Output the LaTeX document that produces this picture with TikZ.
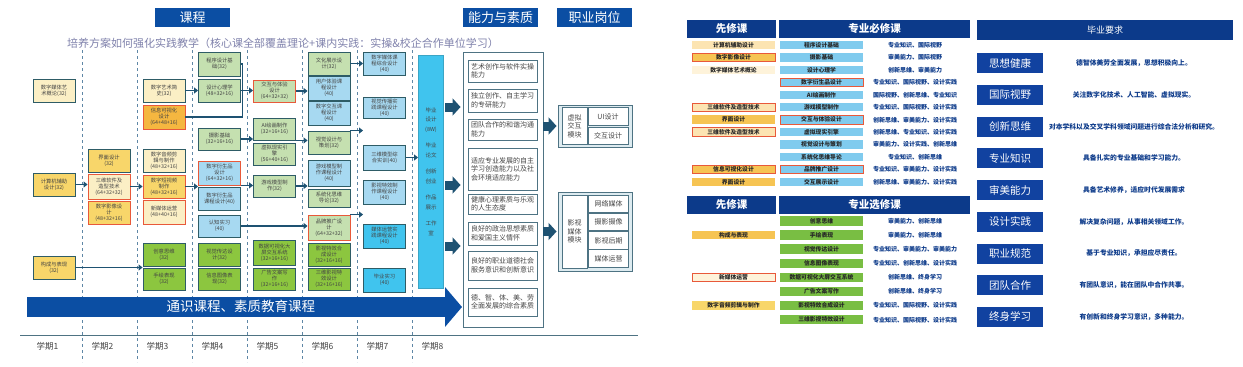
\documentclass[tikz,border=0pt]{standalone}
\usepackage{fontspec}
\setmainfont{Noto Sans CJK SC}
\XeTeXlinebreaklocale "zh"
\XeTeXlinebreakskip=0pt plus 1pt
\usetikzlibrary{arrows.meta,positioning,calc}
\definecolor{hdblue}{HTML}{0B4EA3}
\definecolor{navy}{HTML}{0C3A8A}
\definecolor{gradblue}{HTML}{1142A0}
\definecolor{paleyel}{HTML}{FBEFC5}
\definecolor{midyel}{HTML}{F8D66A}
\definecolor{orng}{HTML}{F5B740}
\definecolor{redline}{HTML}{E8593A}
\definecolor{palegrn}{HTML}{C5E0B0}
\definecolor{grn}{HTML}{8CC63F}
\definecolor{paleblu}{HTML}{A7D9F1}
\definecolor{cyanb}{HTML}{40C4EE}
\definecolor{edge}{HTML}{2E5C66}
\definecolor{abiledge}{HTML}{4E7383}
\definecolor{arrowc}{HTML}{1E5272}
\definecolor{dashc}{HTML}{5F87A6}
\definecolor{titlec}{HTML}{8082AC}
\definecolor{boxtext}{HTML}{444444}
\definecolor{jobfill}{HTML}{DDEBF0}
\definecolor{reqblue}{HTML}{80CBEE}
\definecolor{optgreen}{HTML}{79BE43}
\definecolor{preorng}{HTML}{F6C453}
\definecolor{prelight}{HTML}{FCE4B2}
\definecolor{prepale}{HTML}{FEF3DA}
\tikzset{
  hdbox/.style={fill=hdblue, text=white, minimum height=19pt, minimum width=75pt,
    inner sep=0pt, font=\fontsize{13}{13}\selectfont},
  cbox/.style={draw=edge, line width=0.9pt, minimum width=42pt, minimum height=23pt,
    inner sep=0pt, align=center, text=boxtext, font=\fontsize{5.3}{6.2}\selectfont},
  hotbox/.style={cbox, draw=redline},
  arr/.style={-{Triangle[length=4pt,width=6pt]}, line width=1.8pt, draw=arrowc},
  joinline/.style={line width=1.8pt, draw=arrowc},
  blockarr/.style={-{Triangle[length=8pt,width=17pt]}, line width=9pt, draw=arrowc},
  abilbox/.style={draw=abiledge, line width=0.9pt, minimum width=69pt, text width=63pt,
    align=left, inner sep=0pt, text=boxtext, font=\fontsize{7}{8.4}\selectfont},
  jobcell/.style={draw=abiledge, line width=0.8pt, fill=white, inner sep=0pt,
    align=center, text=boxtext, font=\fontsize{7}{8.4}\selectfont},
  gridline/.style={draw=dashc, dashed, line width=0.7pt},
  axisline/.style={draw=abiledge, line width=1pt},
  semlbl/.style={anchor=west, text=boxtext, font=\fontsize{8.5}{8.5}\selectfont},
  tabhead/.style={fill=navy, text=white, inner sep=0pt, minimum height=18pt,
    font=\fontsize{10.5}{10.5}\selectfont\bfseries},
  precell/.style={minimum width=83pt, minimum height=8.5pt, inner sep=0pt,
    text=black!85, font=\fontsize{5.8}{5.8}\selectfont\bfseries},
  prehot/.style={precell, draw=redline, line width=0.8pt},
  reqcell/.style={precell, fill=reqblue},
  optcell/.style={precell, fill=optgreen, minimum height=9.5pt},
  abltxt/.style={text=navy, font=\fontsize{6}{6}\selectfont\bfseries},
  gradbox/.style={fill=gradblue, text=white, minimum width=66pt, minimum height=20pt,
    inner sep=0pt, font=\fontsize{10.5}{10.5}\selectfont},
  gradtxt/.style={text=navy, font=\fontsize{6.8}{6.8}\selectfont\bfseries}
}
\begin{document}
\begin{tikzpicture}[x=1pt,y=-1pt]
  \fill[white] (0,0) rectangle (1243,367);
  \useasboundingbox (0,0) rectangle (1243,367);

  % headers and title
  \node[hdbox] (hcourse) at (192.5,17.5) {课程};
  \node[hdbox] (hability) at (500.5,17.5) {能力与素质};
  \node[hdbox] (hjob) at (594.5,17.5) {职业岗位};
  \node[text=titlec, font=\fontsize{11}{11}\selectfont] (plantitle) at (283,43)
    {培养方案如何强化实践教学（核心课全部覆盖理论+课内实践：实操\&校企合作单位学习）};

  % semester grid
  \foreach \xx in {82,137,...,412} \draw[gridline] (\xx,50) -- (\xx,362);
  \draw[axisline] (20,335) -- (638,335);
  \foreach \n in {1,...,8} \node[semlbl] (sem\n) at ({33+55*(\n-1)},346) {学期\n};

  % general education arrow
  \draw[-{Triangle[length=17pt,width=39pt]}, line width=20pt, draw=hdblue] (27,307) -- (462,307);
  \node[anchor=west, text=white, font=\fontsize{13.5}{13.5}\selectfont] (genedu) at (163,306) {通识课程、素质教育课程};

  % semester 1
  \node[cbox, fill=paleyel] (c1a) at (54,90.5) {数字媒体艺\\术概论(32)};
  \node[cbox, fill=midyel] (c1b) at (54,184.5) {计算机辅助\\设计(32)};
  \node[cbox, fill=midyel] (c1c) at (54,267.5) {构成与表现\\(32)};
  % semester 2
  \node[cbox, fill=midyel] (c2a) at (109,160.5) {界面设计\\(32)};
  \node[hotbox, fill=paleyel, minimum height=25pt] (c2b) at (109,186.5) {三维软件及\\造型技术\\(64+32+32)};
  \node[hotbox, fill=midyel] (c2c) at (109,212.5) {数字影像设\\计\\(48+32+16)};
  % semester 3
  \node[cbox, fill=paleyel] (c3a) at (164,90.5) {数字艺术简\\史(32)};
  \node[hotbox, fill=orng, minimum height=24pt] (c3b) at (164,117) {信息可视化\\设计\\(64+48+16)};
  \node[cbox, fill=paleyel] (c3c) at (164,160.5) {数字音频剪\\辑与制作\\(48+32+16)};
  \node[hotbox, fill=midyel] (c3d) at (164,186.5) {数字短视频\\制作\\(48+32+16)};
  \node[hotbox, fill=paleyel, minimum height=24pt] (c3e) at (164,212) {新媒体运营\\(48+40+16)};
  \node[cbox, fill=grn] (c3f) at (164,254.5) {创意思维\\(32)};
  \node[cbox, fill=grn, minimum height=22pt] (c3g) at (164,279) {手绘表现\\(32)};
  % semester 4
  \node[cbox, fill=palegrn, minimum height=24pt] (c4a) at (219.5,64) {程序设计基\\础(32)};
  \node[cbox, fill=palegrn] (c4b) at (219.5,90.5) {设计心理学\\(48+32+16)};
  \node[cbox, fill=palegrn, minimum height=22pt] (c4c) at (219.5,139) {摄影基础\\(32+16+16)};
  \node[hotbox, fill=paleblu, minimum height=24pt] (c4d) at (219.5,173) {数字衍生品\\设计\\(64+32+16)};
  \node[cbox, fill=paleblu] (c4e) at (219.5,198.5) {数字衍生品\\课程设计(40)};
  \node[cbox, fill=paleblu, minimum height=22pt] (c4f) at (219.5,226) {认知实习\\(40)};
  \node[cbox, fill=grn] (c4g) at (219.5,254.5) {视觉传达设\\计(32)};
  \node[cbox, fill=grn, minimum height=22pt] (c4h) at (219.5,279) {信息图像表\\现(32)};
  % semester 5
  \node[hotbox, fill=palegrn, minimum height=22pt] (c5a) at (274.5,91) {交互与体验\\设计\\(64+32+32)};
  \node[cbox, fill=palegrn, minimum height=22pt] (c5b) at (274.5,129) {AI绘画制作\\(32+16+16)};
  \node[cbox, fill=palegrn, minimum height=22pt] (c5c) at (274.5,154) {虚拟现实引\\擎\\(56+40+16)};
  \node[cbox, fill=palegrn, minimum height=22pt] (c5d) at (274.5,186) {游戏模型制\\作(32)};
  \node[cbox, fill=grn, minimum height=25pt] (c5e) at (274.5,252.5) {数据可视化大\\屏交互系统\\(32+16+16)};
  \node[cbox, fill=grn, minimum height=22pt] (c5f) at (274.5,279) {广告文案写\\作\\(32+16+16)};
  % semester 6
  \node[cbox, fill=palegrn] (c6a) at (329,63.5) {文化展示设\\计(32)};
  \node[cbox, fill=paleblu, minimum height=24pt] (c6b) at (329,88) {用户体验课\\程设计\\(40)};
  \node[cbox, fill=paleblu, minimum height=24pt] (c6c) at (329,113) {数字交互课\\程设计\\(40)};
  \node[cbox, fill=palegrn] (c6d) at (329,142.5) {视觉设计与\\策划(32)};
  \node[cbox, fill=paleblu, minimum height=26pt] (c6e) at (329,173) {游戏模型制\\作课程设计\\(40)};
  \node[cbox, fill=palegrn, minimum height=18pt] (c6f) at (329,198) {系统化思维\\导论(32)};
  \node[hotbox, fill=palegrn, minimum height=25pt] (c6g) at (329,227.5) {品牌推广设\\计\\(64+32+32)};
  \node[cbox, fill=grn] (c6h) at (329,254.5) {影视特效合\\成设计\\(32+16+16)};
  \node[cbox, fill=grn, minimum height=22pt] (c6i) at (329,279) {三维影视特\\效设计\\(32+16+16)};
  % semester 7
  \node[cbox, fill=paleblu] (c7a) at (384.5,63.5) {数字媒体课\\程综合设计\\(40)};
  \node[cbox, fill=paleblu, minimum height=21pt] (c7b) at (384.5,107.5) {视觉传播实\\践课程设计\\(40)};
  \node[cbox, fill=paleblu, minimum height=25pt] (c7c) at (384.5,157.5) {三维模型综\\合实训(40)};
  \node[cbox, fill=paleblu, minimum height=24pt] (c7d) at (384.5,192) {影视特效制\\作课程设计\\(40)};
  \node[cbox, fill=cyanb, minimum height=24pt] (c7e) at (384.5,236) {媒体运营实\\践课程设计\\(40)};
  \node[cbox, fill=cyanb, minimum height=24pt] (c7f) at (384.5,280) {毕业实习\\(40)};
  % semester 8
  \node[cbox, fill=cyanb, draw=cyanb!70!edge, minimum width=25pt, minimum height=233pt,
    font=\fontsize{5.5}{9.5}\selectfont] (c8) at (431,171.5)
    {毕业\\设计\\(8W)\\[7pt]毕业\\论文\\[7pt]创新\\创业\\[7pt]作品\\展示\\[7pt]工作\\室};

  % course links
  \draw[arr] (c1b.east) -- (c1b.east -| c2b.west);
  \draw[arr] (c2b.east) -- (c2b.east -| c3d.west);
  \draw[arr] (c1c.east) -- (c1c.east -| c3f.west);
  \draw[arr] (c3a.east) -- (c3a.east -| c4b.west);
  \coordinate (jn45) at ([xshift=1.5pt]c4b.east);
  \draw[joinline] (c3b.east) -- (c3b.east -| jn45) -- (c4a.east -| jn45) -- (c4a.east);
  \draw[arr] (c4b.east) -- (c4b.east -| c5a.west);
  \draw[arr] (c4c.east) -- (c4c.east -| c5b.west);
  \draw[arr] (c3d.east) -- (c3d.east -| c4d.west);
  \draw[arr] (c4d.south east) -- (c4d.south east -| c5d.west);
  \draw[arr] (c5d.east) -- (c5d.east -| c6e.west);
  \draw[arr] (c4f.east) -- (c4f.east -| c6g.west);
  \draw[arr] (c5a.east) -- (c5a.east -| c6b.west);
  \draw[arr] (c5b.south east) -- (c5b.south east -| c6d.west);
  \draw[arr] (c6a.east) -- (c6a.east -| c7a.west);
  \draw[arr] (c6d.north east) -- (c6d.north east -| c7c.west);
  \draw[arr] (c6g.north east) -- (c6g.north east -| c7e.west);
  \draw[arr] (c7c.east) -- (c7c.east -| c8.west);

  % abilities
  \node[draw=abiledge, line width=0.9pt, minimum width=80pt, minimum height=275pt, inner sep=0pt] (abilframe) at (503,189.5) {};
  \node[abilbox, minimum height=22pt] (ab1) at (502.5,71) {艺术创作与软件实操能力};
  \node[abilbox, minimum height=23pt] (ab2) at (502.5,100.5) {独立创作、自主学习的专研能力};
  \node[abilbox, minimum height=21pt] (ab3) at (502.5,129.5) {团队合作的和谐沟通能力};
  \node[abilbox, minimum height=42pt] (ab4) at (502.5,169) {适应专业发展的自主学习创造能力以及社会环境适应能力};
  \node[abilbox, minimum height=20pt] (ab5) at (502.5,204) {健康心理素质与乐观的人生态度};
  \node[abilbox, minimum height=23pt] (ab6) at (502.5,233.5) {良好的政治思想素质和爱国主义情怀};
  \node[abilbox, minimum height=29pt] (ab7) at (502.5,265.5) {良好的职业道德社会服务意识和创新意识};
  \node[abilbox, minimum height=28pt] (ab8) at (502.5,302) {德、智、体、美、劳全面发展的综合素质};
  \draw[blockarr, shorten <=1.5pt, shorten >=2pt] ([yshift=64.5pt]c8.east) -- ([yshift=64.5pt]c8.east -| abilframe.west);
  \draw[blockarr, shorten <=1.5pt, shorten >=2pt] ([yshift=-13.5pt]c8.east) -- ([yshift=-13.5pt]c8.east -| abilframe.west);
  \draw[blockarr, shorten <=1.5pt, shorten >=2pt] ([yshift=-74.5pt]c8.east) -- ([yshift=-74.5pt]c8.east -| abilframe.west);

  % jobs
  \node[draw=abiledge, line width=0.9pt, fill=jobfill, minimum width=74pt, minimum height=42pt] (jobA) at (595,126) {};
  \node[jobcell, minimum width=25pt, minimum height=37pt] (jobAmod) at (574.5,126) {虚拟\\交互\\模块};
  \node[jobcell, minimum width=40pt, minimum height=18pt] (jobAui) at (608,116.5) {UI设计};
  \node[jobcell, minimum width=40pt, minimum height=17pt] (jobAix) at (608,135.5) {交互设计};
  \node[draw=abiledge, line width=0.9pt, fill=jobfill, minimum width=74pt, minimum height=79pt] (jobB) at (595,231.5) {};
  \node[jobcell, minimum width=25pt, minimum height=73pt] (jobBmod) at (574.5,231.5) {影视\\媒体\\模块};
  \node[jobcell, minimum width=40pt, minimum height=17.5pt] (jobBnet) at (608.5,204) {网络媒体};
  \node[jobcell, minimum width=40pt, minimum height=17.5pt] (jobBcam) at (608.5,222) {摄影摄像};
  \node[jobcell, minimum width=40pt, minimum height=17.5pt] (jobBpost) at (608.5,240.5) {影视后期};
  \node[jobcell, minimum width=40pt, minimum height=17.5pt] (jobBops) at (608.5,258.5) {媒体运营};
  \draw[blockarr, shorten >=1pt] (abilframe.east |- jobA.west) -- (jobA.west);
  \draw[blockarr, shorten >=1pt] (abilframe.east |- jobB.west) -- (jobB.west);

  % required courses table
  \node[tabhead, minimum width=89pt] (hpre) at (731.5,29) {先修课};
  \node[tabhead, minimum width=191pt] (hreq) at (874.5,29) {专业必修课};
  \node[precell, fill=prelight] (p1) at (733.5,45) {计算机辅助设计};
  \node[reqcell] (r1) at (821.5,45) {程序设计基础};
  \node[abltxt] (a1) at (915,45) {专业知识、国际视野};
  \node[prehot, fill=preorng] (p2) at (733.5,57.4) {数字影像设计};
  \node[reqcell] (r2) at (821.5,57.4) {摄影基础};
  \node[abltxt] (a2) at (915,57.4) {审美能力、国际视野};
  \node[precell, fill=prepale] (p3) at (733.5,69.9) {数字媒体艺术概论};
  \node[reqcell] (r3) at (821.5,69.9) {设计心理学};
  \node[abltxt] (a3) at (915,69.9) {创新思维、审美能力};
  \node[reqcell, draw=redline, line width=0.8pt] (r4) at (821.5,82.3) {数字衍生品设计};
  \node[abltxt] (a4) at (915,82.3) {专业知识、国际视野、设计实践};
  \node[reqcell] (r5) at (821.5,94.8) {AI绘画制作};
  \node[abltxt] (a5) at (915,94.8) {国际视野、创新思维、专业知识};
  \node[prehot, fill=prelight] (p6) at (733.5,107.2) {三维软件及造型技术};
  \node[reqcell] (r6) at (821.5,107.2) {游戏模型制作};
  \node[abltxt] (a6) at (915,107.2) {专业知识、国际视野、设计实践};
  \node[precell, fill=preorng] (p7) at (733.5,119.7) {界面设计};
  \node[reqcell, draw=redline, line width=0.8pt] (r7) at (821.5,119.7) {交互与体验设计};
  \node[abltxt] (a7) at (915,119.7) {创新思维、审美能力、设计实践};
  \node[prehot, fill=prelight] (p8) at (733.5,132.1) {三维软件及造型技术};
  \node[reqcell] (r8) at (821.5,132.1) {虚拟现实引擎};
  \node[abltxt] (a8) at (915,132.1) {创新思维、专业知识、设计实践};
  \node[reqcell] (r9) at (821.5,144.6) {视觉设计与策划};
  \node[abltxt] (a9) at (915,144.6) {审美能力、设计实践、创新思维};
  \node[reqcell] (r10) at (821.5,157) {系统化思维导论};
  \node[abltxt] (a10) at (915,157) {专业知识、创新思维};
  \node[prehot, fill=preorng] (p11) at (733.5,169.5) {信息可视化设计};
  \node[reqcell, draw=redline, line width=0.8pt] (r11) at (821.5,169.5) {品牌推广设计};
  \node[abltxt] (a11) at (915,169.5) {专业知识、审美能力、设计实践};
  \node[precell, fill=preorng] (p12) at (733.5,181.9) {界面设计};
  \node[reqcell] (r12) at (821.5,181.9) {交互展示设计};
  \node[abltxt] (a12) at (915,181.9) {创新思维、审美能力、设计实践};

  % elective courses table
  \node[tabhead, minimum width=89pt] (hpre2) at (731.5,204.5) {先修课};
  \node[tabhead, minimum width=191pt] (hopt) at (874.5,204.5) {专业选修课};
  \node[optcell] (o1) at (821.5,221) {创意思维};
  \node[abltxt] (b1) at (915,221) {审美能力、创新思维};
  \node[precell, fill=preorng] (q2) at (733.5,235.1) {构成与表现};
  \node[optcell] (o2) at (821.5,235.1) {手绘表现};
  \node[abltxt] (b2) at (915,235.1) {审美能力、创新思维};
  \node[optcell] (o3) at (821.5,249.2) {视觉传达设计};
  \node[abltxt] (b3) at (915,249.2) {专业知识、审美能力、审美能力};
  \node[optcell] (o4) at (821.5,263.3) {信息图像表现};
  \node[abltxt] (b4) at (915,263.3) {专业知识、创新思维、设计实践};
  \node[prehot, fill=prepale] (q5) at (733.5,277.4) {新媒体运营};
  \node[optcell] (o5) at (821.5,277.4) {数据可视化大屏交互系统};
  \node[abltxt] (b5) at (915,277.4) {创新思维、终身学习};
  \node[optcell] (o6) at (821.5,291.5) {广告文案写作};
  \node[abltxt] (b6) at (915,291.5) {创新思维、终身学习};
  \node[precell, fill=midyel] (q7) at (733.5,305.6) {数字音频剪辑与制作};
  \node[optcell] (o7) at (821.5,305.6) {影视特效合成设计};
  \node[abltxt] (b7) at (915,305.6) {专业知识、国际视野、设计实践};
  \node[optcell] (o8) at (821.5,319.7) {三维影视特效设计};
  \node[abltxt] (b8) at (915,319.7) {专业知识、国际视野、设计实践};

  % graduation requirements
  \node[tabhead, minimum width=256pt, minimum height=20pt, font=\fontsize{9}{9}\selectfont] (hgrad) at (1105,30) {毕业要求};
  \node[gradbox] (g1) at (1010,63) {思想健康};
  \node[gradtxt] (d1) at (1134,63) {德智体美劳全面发展，思想积极向上。};
  \node[gradbox] (g2) at (1010,94.8) {国际视野};
  \node[gradtxt] (d2) at (1134,94.8) {关注数字化技术、人工智能、虚拟现实。};
  \node[gradbox] (g3) at (1010,126.5) {创新思维};
  \node[gradtxt] (d3) at (1134,126.5) {对本学科以及交叉学科领域问题进行综合法分析和研究。};
  \node[gradbox] (g4) at (1010,158.3) {专业知识};
  \node[gradtxt] (d4) at (1134,158.3) {具备扎实的专业基础和学习能力。};
  \node[gradbox] (g5) at (1010,190) {审美能力};
  \node[gradtxt] (d5) at (1134,190) {具备艺术修养，适应时代发展需求};
  \node[gradbox] (g6) at (1010,221.8) {设计实践};
  \node[gradtxt] (d6) at (1134,221.8) {解决复杂问题，从事相关领域工作。};
  \node[gradbox] (g7) at (1010,253.5) {职业规范};
  \node[gradtxt] (d7) at (1134,253.5) {基于专业知识，承担应尽责任。};
  \node[gradbox] (g8) at (1010,285.3) {团队合作};
  \node[gradtxt] (d8) at (1134,285.3) {有团队意识，能在团队中合作共事。};
  \node[gradbox] (g9) at (1010,317) {终身学习};
  \node[gradtxt] (d9) at (1134,317) {有创新和终身学习意识，多种能力。};
\end{tikzpicture}
\end{document}
